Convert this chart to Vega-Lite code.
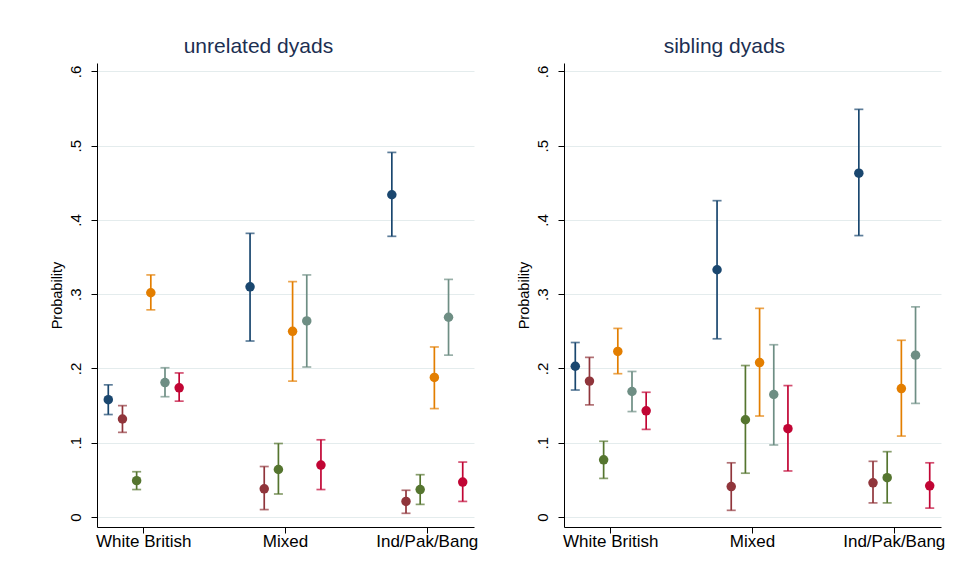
{
  "$schema": "https://vega.github.io/schema/vega-lite/v6.json",
  "background": "white",
  "padding": {"left": 49, "top": 36, "right": 5, "bottom": 5},
  "datasets": {
    "pts": [
      {"panel": "unrelated dyads", "group": "White British", "series": "s1", "p": 0.158, "lo": 0.138, "hi": 0.178},
      {"panel": "unrelated dyads", "group": "White British", "series": "s2", "p": 0.132, "lo": 0.114, "hi": 0.150},
      {"panel": "unrelated dyads", "group": "White British", "series": "s3", "p": 0.049, "lo": 0.037, "hi": 0.061},
      {"panel": "unrelated dyads", "group": "White British", "series": "s4", "p": 0.302, "lo": 0.279, "hi": 0.326},
      {"panel": "unrelated dyads", "group": "White British", "series": "s5", "p": 0.181, "lo": 0.162, "hi": 0.201},
      {"panel": "unrelated dyads", "group": "White British", "series": "s6", "p": 0.174, "lo": 0.156, "hi": 0.194},
      {"panel": "unrelated dyads", "group": "Mixed", "series": "s1", "p": 0.310, "lo": 0.237, "hi": 0.382},
      {"panel": "unrelated dyads", "group": "Mixed", "series": "s2", "p": 0.038, "lo": 0.010, "hi": 0.068},
      {"panel": "unrelated dyads", "group": "Mixed", "series": "s3", "p": 0.064, "lo": 0.031, "hi": 0.099},
      {"panel": "unrelated dyads", "group": "Mixed", "series": "s4", "p": 0.250, "lo": 0.183, "hi": 0.317},
      {"panel": "unrelated dyads", "group": "Mixed", "series": "s5", "p": 0.264, "lo": 0.202, "hi": 0.326},
      {"panel": "unrelated dyads", "group": "Mixed", "series": "s6", "p": 0.070, "lo": 0.037, "hi": 0.104},
      {"panel": "unrelated dyads", "group": "Ind/Pak/Bang", "series": "s1", "p": 0.434, "lo": 0.378, "hi": 0.491},
      {"panel": "unrelated dyads", "group": "Ind/Pak/Bang", "series": "s2", "p": 0.021, "lo": 0.005, "hi": 0.036},
      {"panel": "unrelated dyads", "group": "Ind/Pak/Bang", "series": "s3", "p": 0.037, "lo": 0.017, "hi": 0.057},
      {"panel": "unrelated dyads", "group": "Ind/Pak/Bang", "series": "s4", "p": 0.188, "lo": 0.146, "hi": 0.229},
      {"panel": "unrelated dyads", "group": "Ind/Pak/Bang", "series": "s5", "p": 0.269, "lo": 0.218, "hi": 0.320},
      {"panel": "unrelated dyads", "group": "Ind/Pak/Bang", "series": "s6", "p": 0.047, "lo": 0.021, "hi": 0.074},
      {"panel": "sibling dyads", "group": "White British", "series": "s1", "p": 0.203, "lo": 0.171, "hi": 0.235},
      {"panel": "sibling dyads", "group": "White British", "series": "s2", "p": 0.183, "lo": 0.151, "hi": 0.215},
      {"panel": "sibling dyads", "group": "White British", "series": "s3", "p": 0.077, "lo": 0.052, "hi": 0.102},
      {"panel": "sibling dyads", "group": "White British", "series": "s4", "p": 0.223, "lo": 0.193, "hi": 0.254},
      {"panel": "sibling dyads", "group": "White British", "series": "s5", "p": 0.169, "lo": 0.142, "hi": 0.196},
      {"panel": "sibling dyads", "group": "White British", "series": "s6", "p": 0.143, "lo": 0.118, "hi": 0.168},
      {"panel": "sibling dyads", "group": "Mixed", "series": "s1", "p": 0.333, "lo": 0.240, "hi": 0.426},
      {"panel": "sibling dyads", "group": "Mixed", "series": "s2", "p": 0.041, "lo": 0.009, "hi": 0.073},
      {"panel": "sibling dyads", "group": "Mixed", "series": "s3", "p": 0.131, "lo": 0.059, "hi": 0.204},
      {"panel": "sibling dyads", "group": "Mixed", "series": "s4", "p": 0.208, "lo": 0.136, "hi": 0.281},
      {"panel": "sibling dyads", "group": "Mixed", "series": "s5", "p": 0.165, "lo": 0.097, "hi": 0.232},
      {"panel": "sibling dyads", "group": "Mixed", "series": "s6", "p": 0.119, "lo": 0.062, "hi": 0.177},
      {"panel": "sibling dyads", "group": "Ind/Pak/Bang", "series": "s1", "p": 0.463, "lo": 0.379, "hi": 0.549},
      {"panel": "sibling dyads", "group": "Ind/Pak/Bang", "series": "s2", "p": 0.046, "lo": 0.019, "hi": 0.075},
      {"panel": "sibling dyads", "group": "Ind/Pak/Bang", "series": "s3", "p": 0.053, "lo": 0.019, "hi": 0.088},
      {"panel": "sibling dyads", "group": "Ind/Pak/Bang", "series": "s4", "p": 0.173, "lo": 0.109, "hi": 0.238},
      {"panel": "sibling dyads", "group": "Ind/Pak/Bang", "series": "s5", "p": 0.218, "lo": 0.153, "hi": 0.283},
      {"panel": "sibling dyads", "group": "Ind/Pak/Bang", "series": "s6", "p": 0.042, "lo": 0.012, "hi": 0.073}
    ]
  },
  "config": {
    "font": "Liberation Sans",
    "view": {"stroke": null},
    "concat": {"spacing": 38},
    "axis": {
      "domainColor": "#000000",
      "tickColor": "#000000",
      "labelColor": "#000000",
      "titleColor": "#000000",
      "labelFont": "Liberation Sans",
      "titleFont": "Liberation Sans",
      "titleFontWeight": "normal"
    },
    "title": {"font": "Liberation Sans", "fontWeight": "normal", "fontSize": 21, "color": "#1c2f52", "anchor": "middle", "frame": "bounds", "baseline": "alphabetic", "offset": 6}
  },
  "hconcat": [
    {
      "title": {"text": "unrelated dyads", "dx": -5},
      "width": 377,
      "height": 464,
      "data": {"name": "pts"},
      "transform": [{"filter": "datum.panel == 'unrelated dyads'"}],
      "encoding": {
        "x": {"field": "group", "type": "nominal", "sort": ["White British", "Mixed", "Ind/Pak/Bang"],
          "scale": {"paddingInner": 0.4, "paddingOuter": 0.0296},
          "axis": {"title": null, "labelAngle": 0, "labelFontSize": 17, "tickSize": 6, "labelPadding": 0, "grid": false}},
        "xOffset": {"field": "series", "type": "nominal", "scale": {"paddingInner": 0, "paddingOuter": 0}},
        "color": {"field": "series", "type": "nominal", "legend": null,
          "scale": {"domain": ["s1", "s2", "s3", "s4", "s5", "s6"], "range": ["#1a476f", "#90353b", "#55752f", "#e37e00", "#6e8e84", "#c10534"]}}
      },
      "layer": [
        {"mark": {"type": "rule", "strokeWidth": 1.7},
          "encoding": {
            "y": {"field": "lo", "type": "quantitative", "title": "Probability",
              "scale": {"domain": [-0.01345, 0.6114], "nice": false, "zero": false},
              "axis": {"values": [0, 0.1, 0.2, 0.3, 0.4, 0.5, 0.6], "labelExpr": "datum.value == 0 ? '0' : slice(format(datum.value, '.1f'), 1)",
                "labelAngle": 270, "labelAlign": "center", "labelBaseline": "middle", "labelFontSize": 15, "tickSize": 6, "labelPadding": 16,
                "grid": true, "gridColor": "#e4eced", "titleFontSize": 14.5, "titlePadding": 4}},
            "y2": {"field": "hi"}
          }},
        {"mark": {"type": "tick", "size": 9, "thickness": 1.7}, "encoding": {"y": {"field": "lo", "type": "quantitative", "title": "Probability"}}},
        {"mark": {"type": "tick", "size": 9, "thickness": 1.7}, "encoding": {"y": {"field": "hi", "type": "quantitative", "title": "Probability"}}},
        {"mark": {"type": "point", "filled": true, "shape": "circle", "size": 90, "opacity": 1}, "encoding": {"y": {"field": "p", "type": "quantitative", "title": "Probability"}}}
      ]
    },
    {
      "title": {"text": "sibling dyads", "dx": -6},
      "width": 377,
      "height": 464,
      "data": {"name": "pts"},
      "transform": [{"filter": "datum.panel == 'sibling dyads'"}],
      "encoding": {
        "x": {"field": "group", "type": "nominal", "sort": ["White British", "Mixed", "Ind/Pak/Bang"],
          "scale": {"paddingInner": 0.4, "paddingOuter": 0.0296},
          "axis": {"title": null, "labelAngle": 0, "labelFontSize": 17, "tickSize": 6, "labelPadding": 0, "grid": false}},
        "xOffset": {"field": "series", "type": "nominal", "scale": {"paddingInner": 0, "paddingOuter": 0}},
        "color": {"field": "series", "type": "nominal", "legend": null,
          "scale": {"domain": ["s1", "s2", "s3", "s4", "s5", "s6"], "range": ["#1a476f", "#90353b", "#55752f", "#e37e00", "#6e8e84", "#c10534"]}}
      },
      "layer": [
        {"mark": {"type": "rule", "strokeWidth": 1.7},
          "encoding": {
            "y": {"field": "lo", "type": "quantitative", "title": "Probability",
              "scale": {"domain": [-0.01345, 0.6114], "nice": false, "zero": false},
              "axis": {"values": [0, 0.1, 0.2, 0.3, 0.4, 0.5, 0.6], "labelExpr": "datum.value == 0 ? '0' : slice(format(datum.value, '.1f'), 1)",
                "labelAngle": 270, "labelAlign": "center", "labelBaseline": "middle", "labelFontSize": 15, "tickSize": 6, "labelPadding": 16,
                "grid": true, "gridColor": "#e4eced", "titleFontSize": 14.5, "titlePadding": 4}},
            "y2": {"field": "hi"}
          }},
        {"mark": {"type": "tick", "size": 9, "thickness": 1.7}, "encoding": {"y": {"field": "lo", "type": "quantitative", "title": "Probability"}}},
        {"mark": {"type": "tick", "size": 9, "thickness": 1.7}, "encoding": {"y": {"field": "hi", "type": "quantitative", "title": "Probability"}}},
        {"mark": {"type": "point", "filled": true, "shape": "circle", "size": 90, "opacity": 1}, "encoding": {"y": {"field": "p", "type": "quantitative", "title": "Probability"}}}
      ]
    }
  ]
}
